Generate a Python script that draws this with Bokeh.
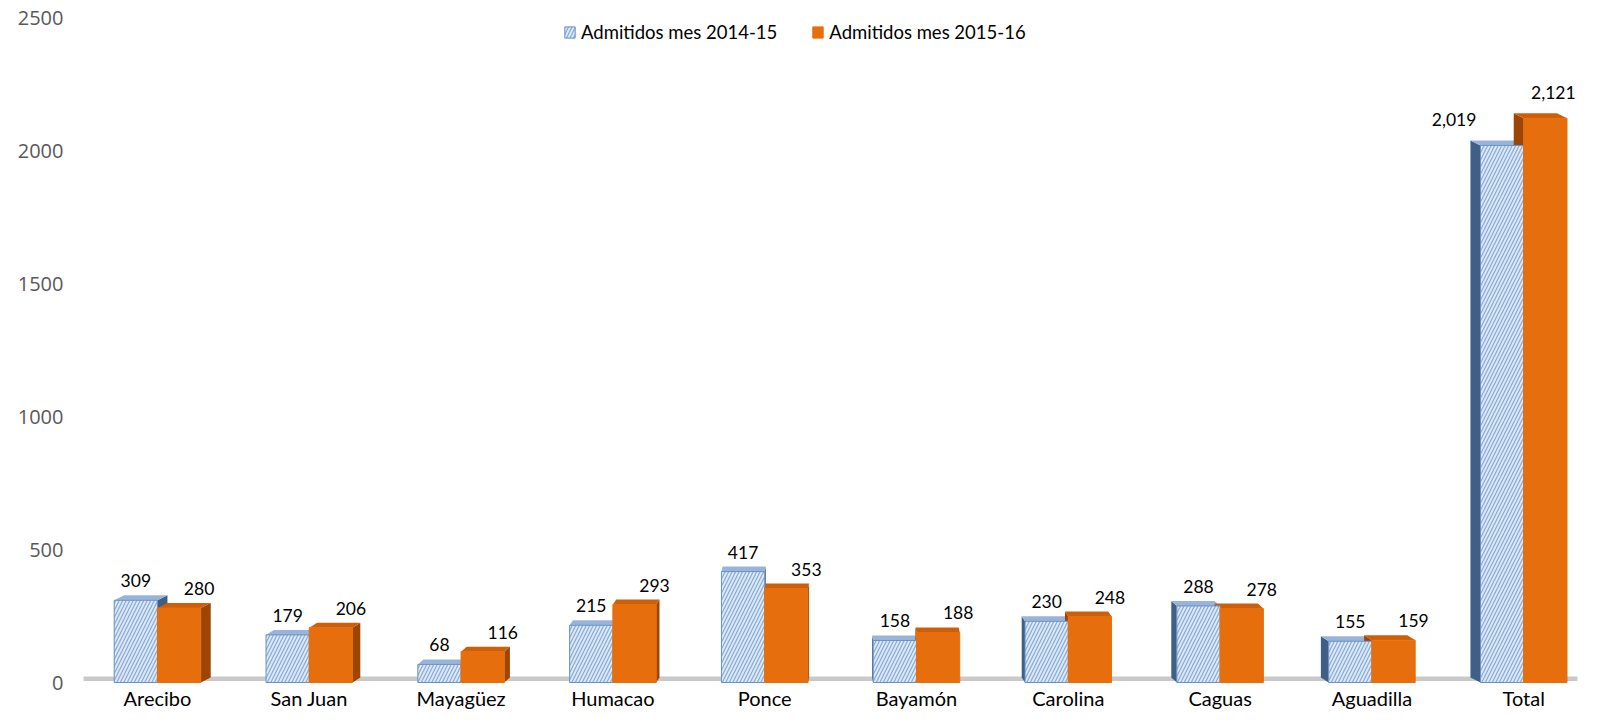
from bokeh.plotting import figure
from bokeh.models import ColumnDataSource, FixedTicker, Legend, LegendItem, LabelSet
from bokeh.core.properties import value
from bokeh.embed import file_html
from bokeh.resources import INLINE

categories = ["Arecibo", "San Juan", "Mayagüez", "Humacao", "Ponce",
              "Bayamón", "Carolina", "Caguas", "Aguadilla", "Total"]
admitidos_2014_15 = [309, 179, 68, 215, 417, 158, 230, 288, 155, 2019]
admitidos_2015_16 = [280, 206, 116, 293, 353, 188, 248, 278, 159, 2121]
series_names = ["Admitidos mes 2014-15", "Admitidos mes 2015-16"]
y_ticks = [0, 500, 1000, 1500, 2000, 2500]

# ---- style / geometry ----
BAR_W = 0.285
FRAME_W, FRAME_H = 1500, 692
X_LO, X_HI = -0.507, 9.374
Y_HI = 2500
AXIS_PX = 665.0
PX_Y = AXIS_PX / Y_HI
Y_LO = -(FRAME_H - AXIS_PX) / PX_Y
PX_X = FRAME_W / (X_HI - X_LO)
DEPTH_PX = 10.0
TOP_PX = 5.0
n = len(categories)
mid = (n - 1) / 2.0

p = figure(frame_width=FRAME_W, frame_height=FRAME_H, title=None,
           x_range=(X_LO, X_HI), y_range=(Y_LO, Y_HI),
           x_axis_location=None,
           output_backend="svg", toolbar_location=None,
           min_border_left=80, min_border_right=0, min_border_top=17,
           min_border_bottom=0)
p.outline_line_color = None
p.grid.visible = False
p.background_fill_color = "white"

# floor band
p.quad(left=[-0.487], right=[X_HI - 0.02], bottom=[1.5 / PX_Y], top=[6.0 / PX_Y],
       fill_color="#c9c9c9", line_color=None, level="underlay")

def faces(vals, offset, side_color, top_color):
    xs_side, ys_side, xs_top, ys_top = [], [], [], []
    for i, v in enumerate(vals):
        c = i + offset
        x0, x1 = c - BAR_W / 2, c + BAR_W / 2
        sx = -(i - mid) / mid * DEPTH_PX / PX_X
        sy = TOP_PX / PX_Y
        xs_top.append([x0, x1, x1 + sx, x0 + sx])
        ys_top.append([v, v, v + sy, v + sy])
        if sx >= 0:
            xs_side.append([x1, x1 + sx, x1 + sx, x1])
        else:
            xs_side.append([x0, x0 + sx, x0 + sx, x0])
        ys_side.append([0, sy, v + sy, v])
    p.patches(xs_side, ys_side, fill_color=side_color, line_color=None)
    p.patches(xs_top, ys_top, fill_color=top_color, line_color=None)

faces(admitidos_2014_15, -BAR_W / 2, "#3f5f87", "#98b4da")
faces(admitidos_2015_16, BAR_W / 2, "#9c4504", "#cf5e08")

pos = list(range(n))
src1 = ColumnDataSource(dict(x=[i - BAR_W / 2 for i in pos], top=admitidos_2014_15,
                             lab=[f"{v:,}" for v in admitidos_2014_15]))
src2 = ColumnDataSource(dict(x=[i + BAR_W / 2 for i in pos], top=admitidos_2015_16,
                             lab=[f"{v:,}" for v in admitidos_2015_16]))

r1 = p.vbar(x="x", top="top", bottom=0, width=BAR_W, source=src1,
            fill_color="#dde9f7", hatch_pattern="/", hatch_color="#8badd9",
            hatch_scale=7, hatch_weight=1.3, line_color="#6a90c2", line_width=1)
r2 = p.vbar(x="x", top="top", bottom=0, width=BAR_W, source=src2,
            fill_color="#e66e0c", line_color="#e66e0c", line_width=1)

# data labels (screen offsets)
src1.data["xo"] = [0] * (n - 1) + [-48]
src2.data["xo"] = [20] * (n - 1) + [8]
yo = [13] * (n - 1) + [19]
src1.data["yo"] = yo
src2.data["yo"] = yo
for src in (src1, src2):
    p.add_layout(LabelSet(x="x", y="top", text="lab", source=src,
                          x_offset="xo", y_offset="yo",
                          text_align="center", text_baseline="alphabetic",
                          text_font=value("Lato"), text_font_size=value("17.5px"),
                          text_color="#000000"))

# category labels
cat_src = ColumnDataSource(dict(x=pos, y=[0] * n, name=categories))
p.add_layout(LabelSet(x="x", y="y", text="name", source=cat_src, y_offset=-23,
                      text_align="center", text_baseline="alphabetic",
                      text_font=value("Lato"), text_font_size=value("20px"),
                      text_color="#000000"))

# y axis
p.yaxis.ticker = FixedTicker(ticks=y_ticks)
p.yaxis.axis_line_color = None
p.yaxis.major_tick_line_color = None
p.yaxis.minor_tick_line_color = None
p.yaxis.major_label_standoff = 11
p.yaxis.major_label_text_font = "Open Sans"
p.yaxis.major_label_text_font_size = "20px"
p.yaxis.major_label_text_color = "#595959"

legend = Legend(items=[LegendItem(label=series_names[0], renderers=[r1]),
                       LegendItem(label=series_names[1], renderers=[r2])],
                orientation="horizontal", location=(483, 666),
                glyph_width=13, glyph_height=14, label_standoff=5, spacing=34,
                padding=0, margin=0, border_line_color=None,
                background_fill_alpha=0,
                label_text_font="Lato", label_text_font_size="18.5px",
                label_text_color="#000000")
p.add_layout(legend, "center")

open("out.html", "w").write(file_html(p, INLINE))
